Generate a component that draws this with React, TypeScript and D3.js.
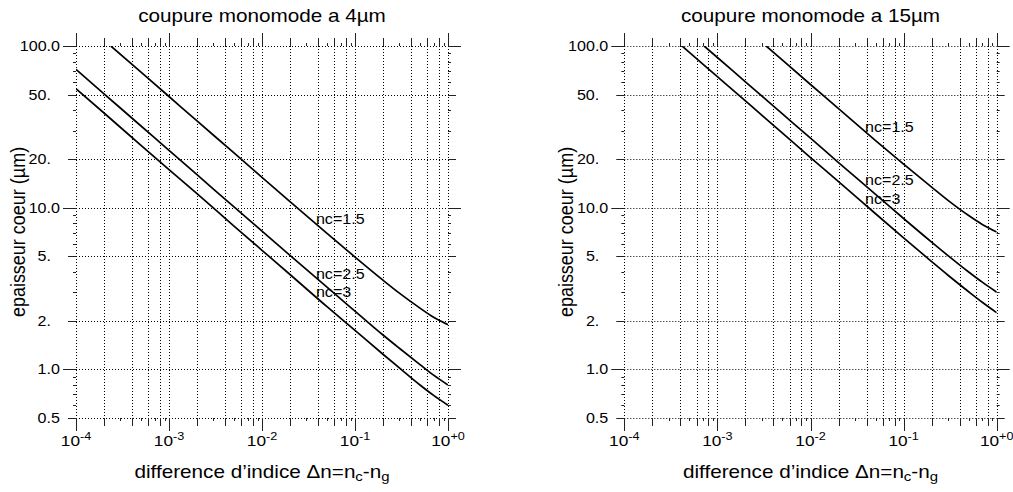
import React from "react";
import * as d3 from "d3";

// ---------- data ----------
const titles = ["coupure monomode a 4\u00b5m", "coupure monomode a 15\u00b5m"];
const curveNames = ["nc=1.5", "nc=2.5", "nc=3"];

// left panel (4 µm)
const dnL15 = [2.37e-4, 5e-4, 1e-3, 2e-3, 5e-3, 1e-2, 2e-2, 5e-2, 0.1, 0.2, 0.3, 0.5, 0.7, 1];
const dL15 = [100, 68.9, 48.7, 34.4, 21.8, 15.4, 10.9, 6.94, 4.95, 3.56, 2.96, 2.39, 2.1, 1.89];
const dnL25 = [1e-4, 2e-4, 5e-4, 1e-3, 2e-3, 5e-3, 1e-2, 2e-2, 5e-2, 0.1, 0.2, 0.3, 0.5, 0.7, 1];
const dL25 = [71.6, 50.6, 32.0, 22.6, 16.0, 10.1, 7.16, 5.07, 3.22, 2.29, 1.63, 1.35, 1.07, 0.92, 0.8];
const dnL3 = [1e-4, 2e-4, 5e-4, 1e-3, 2e-3, 5e-3, 1e-2, 2e-2, 5e-2, 0.1, 0.2, 0.3, 0.5, 0.7, 1];
const dL3 = [54.4, 38.5, 24.3, 17.2, 12.2, 7.7, 5.45, 3.86, 2.44, 1.74, 1.24, 1.02, 0.8, 0.69, 0.6];

// right panel (15 µm)
const dnR15 = [3.34e-3, 5e-3, 1e-2, 2e-2, 5e-2, 0.1, 0.2, 0.3, 0.5, 0.7, 1];
const dR15 = [100, 81.7, 57.8, 41.0, 26.0, 18.6, 13.4, 11.1, 8.94, 7.88, 7.07];
const dnR25 = [7.2e-4, 1e-3, 2e-3, 5e-3, 1e-2, 2e-2, 5e-2, 0.1, 0.2, 0.3, 0.5, 0.7, 1];
const dR25 = [100, 84.9, 60.0, 38.0, 26.9, 19.0, 12.1, 8.57, 6.12, 5.05, 4.0, 3.46, 3.0];
const dnR3 = [4.17e-4, 5e-4, 1e-3, 2e-3, 5e-3, 1e-2, 2e-2, 5e-2, 0.1, 0.2, 0.3, 0.5, 0.7, 1];
const dR3 = [100, 91.3, 64.6, 45.7, 28.9, 20.4, 14.5, 9.17, 6.51, 4.64, 3.82, 3.02, 2.6, 2.24];

// label anchors in data units [dn, d]
const labelPosL = [[0.038, 7.9], [0.038, 3.64], [0.038, 2.8]];
const labelPosR = [[0.0385, 29.4], [0.0385, 13.8], [0.0385, 10.5]];

// axis ticks
const yTickValues = [100, 50, 20, 10, 5, 2, 1, 0.5];
const yTickLabels = ["100.0", "50.", "20.", "10.0", "5.", "2.", "1.0", "0.5"];
const xDecades = [-4, -3, -2, -1, 0];
const xTickExp = ["-4", "-3", "-2", "-1", "+0"];

// ---------- layout ----------
const W = 1013;
const H = 492;
const TOP = 46;
const BOT = 418;
const FONT = "'Liberation Sans', Arial, Helvetica, sans-serif";
const SX = 1.15;

function Panel({ x0, x1, title, curves, labelPos, id }) {
  const x = d3.scaleLog().domain([1e-4, 1]).range([x0, x1]);
  const y = d3.scaleLog().domain([0.5, 100]).range([BOT, TOP]);
  const line = d3
    .line()
    .x((d) => x(d[0]))
    .y((d) => y(d[1]))
    .curve(d3.curveMonotoneX);
  const cx = (x0 + x1) / 2;

  // x minor ticks
  const xTicks = [];
  for (let k = -4; k < 0; k++) {
    for (let m = 1; m <= 9; m++) xTicks.push({ v: m * Math.pow(10, k), m });
  }
  xTicks.push({ v: 1, m: 1 });
  const xGrid = xTicks.filter((t) => [1, 2, 4, 6, 8].includes(t.m));

  const yTicks = [];
  for (let k = -1; k <= 2; k++) {
    for (let m = 1; m <= 9; m++) {
      const v = m * Math.pow(10, k);
      if (v >= 0.5 - 1e-9 && v <= 100 + 1e-9) yTicks.push({ v, m });
    }
  }
  const tickLenX = (m) => (m === 1 ? 13 : m % 2 === 0 ? 8 : 3);
  const tickLenY = (m) => (m === 1 ? 13 : m === 2 || m === 5 ? 8 : 3);

  return (
    <g>
      <defs>
        <clipPath id={id}>
          <rect x={x0} y={TOP} width={x1 - x0} height={BOT - TOP} />
        </clipPath>
      </defs>
      {/* grid */}
      {xGrid.map((t, i) => (
        <line
          key={"gx" + i}
          x1={Math.round(x(t.v)) + 0.5}
          x2={Math.round(x(t.v)) + 0.5}
          y1={TOP}
          y2={BOT}
          stroke="#000"
          strokeWidth={1}
          strokeDasharray="1,2"
        />
      ))}
      {yTickValues.map((v, i) => (
        <line
          key={"gy" + i}
          x1={x0}
          x2={x1}
          y1={Math.round(y(v)) + 0.5}
          y2={Math.round(y(v)) + 0.5}
          stroke="#000"
          strokeWidth={1}
          strokeDasharray="1,2"
        />
      ))}
      {/* x ticks top & bottom */}
      {xTicks.map((t, i) => {
        const px = Math.round(x(t.v)) + 0.5;
        const L = tickLenX(t.m);
        return (
          <g key={"xt" + i} stroke="#222" strokeWidth={1}>
            <line x1={px} x2={px} y1={BOT} y2={BOT + L} />
            <line x1={px} x2={px} y1={TOP} y2={TOP - L} />
          </g>
        );
      })}
      {/* y ticks left & right */}
      {yTicks.map((t, i) => {
        const py = Math.round(y(t.v)) + 0.5;
        const L = tickLenY(t.m);
        return (
          <g key={"yt" + i} stroke="#222" strokeWidth={1}>
            <line x1={x0} x2={x0 - L} y1={py} y2={py} />
            <line x1={x1} x2={x1 + L} y1={py} y2={py} />
          </g>
        );
      })}
      {/* y tick labels, aligned on the decimal point */}
      {yTickValues.map((v, i) => {
        const lab = yTickLabels[i];
        const endX = lab.endsWith(".") ? x0 - 25 : x0 - 16;
        return (
          <text
            key={"yl" + i}
            transform={`translate(${endX},${y(v) + 5}) scale(${SX},1)`}
            textAnchor="end"
            fontSize={14}
            fontFamily={FONT}
          >
            {lab}
          </text>
        );
      })}
      {/* x tick labels */}
      {xDecades.map((e, i) => (
        <text
          key={"xl" + i}
          transform={`translate(${x(Math.pow(10, e))},${BOT + 28}) scale(${SX},1)`}
          textAnchor="middle"
          fontSize={15}
          fontFamily={FONT}
        >
          10
          <tspan fontSize={11} dy={-6}>
            {xTickExp[i]}
          </tspan>
        </text>
      ))}
      {/* curves */}
      <g clipPath={`url(#${id})`}>
        {curves.map((c, i) => (
          <path
            key={"c" + i}
            d={line(c[0].map((dn, j) => [dn, c[1][j]]))}
            fill="none"
            stroke="#000"
            strokeWidth={1.7}
          />
        ))}
      </g>
      {/* curve labels */}
      {labelPos.map((p, i) => (
        <text
          key={"lab" + i}
          transform={`translate(${x(p[0])},${y(p[1])}) scale(${SX},1)`}
          fontSize={14}
          fontFamily={FONT}
        >
          {curveNames[i]}
        </text>
      ))}
      {/* title */}
      <text
        transform={`translate(${cx},22) scale(${SX},1)`}
        textAnchor="middle"
        fontSize={18}
        fontFamily={FONT}
      >
        {title}
      </text>
      {/* x axis title */}
      <text
        transform={`translate(${cx},478) scale(${SX},1)`}
        textAnchor="middle"
        fontSize={18}
        fontFamily={FONT}
      >
        {"difference d\u2019indice \u0394n=n"}
        <tspan fontSize={13} dy={3}>c</tspan>
        <tspan dy={-3}>-n</tspan>
        <tspan fontSize={13} dy={3}>g</tspan>
      </text>
      {/* y axis title */}
      <text
        transform={`translate(${x0 - 51},${(TOP + BOT) / 2}) rotate(-90) scale(1,${SX})`}
        textAnchor="middle"
        fontSize={18}
        fontFamily={FONT}
      >
        {"epaisseur coeur (\u00b5m)"}
      </text>
    </g>
  );
}

export default function App() {
  const curvesL = [
    [dnL15, dL15],
    [dnL25, dL25],
    [dnL3, dL3],
  ];
  const curvesR = [
    [dnR15, dR15],
    [dnR25, dR25],
    [dnR3, dR3],
  ];
  return (
    <svg
      width={W}
      height={H}
      style={{ position: "absolute", left: 0, top: 0, background: "#fff" }}
    >
      <rect width={W} height={H} fill="#fff" />
      <Panel x0={76} x1={448} title={titles[0]} curves={curvesL} labelPos={labelPosL} id="clipL" />
      <Panel x0={624.3} x1={996.7} title={titles[1]} curves={curvesR} labelPos={labelPosR} id="clipR" />
    </svg>
  );
}
